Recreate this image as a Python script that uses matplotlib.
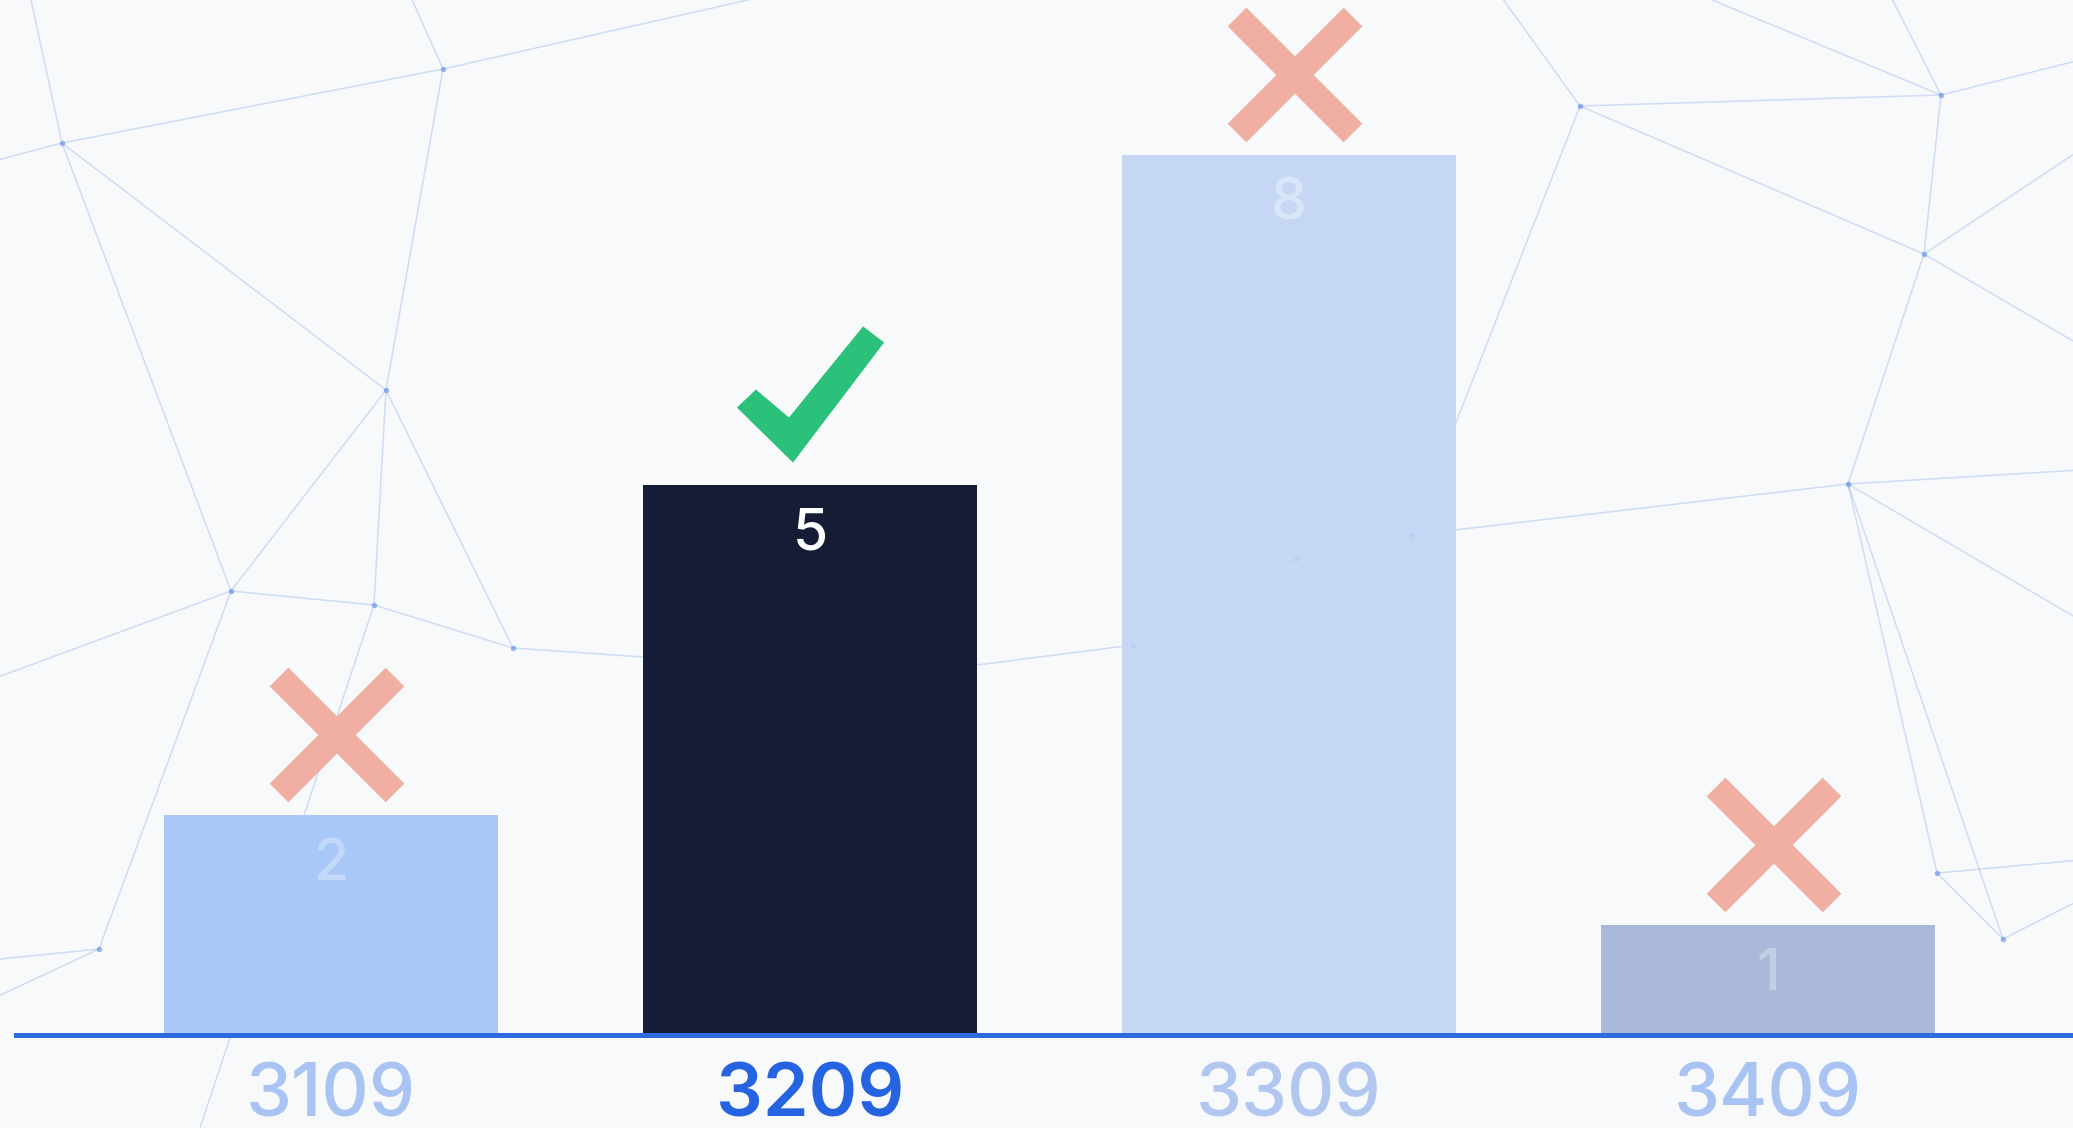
import matplotlib.pyplot as plt
from matplotlib.markers import MarkerStyle
from matplotlib.path import Path

# chart data
versions = ['3109', '3209', '3309', '3409']
counts = [2, 5, 8, 1]
correct = [False, True, False, False]
bar_colors = ['#a9c8f7', '#161c36', '#c0d4f3', '#aab9da']
bar_alpha = [1, 1, 0.9, 1]
value_colors = ['#c4d9fa', '#ffffff', '#d9e6f9', '#c2cee6']
tick_colors = ['#a9c3f2', '#2563e0', '#b2c7ef', '#a9c3f2']

# decorative background network (figure pixels, y from top)
nodes = {
    'A': (62, 143), 'B': (443, 69), 'C': (386, 390), 'D': (231, 591),
    'E': (374, 605), 'F': (513, 648), 'G': (99, 949), 'H': (1580, 106),
    'I': (1941, 95), 'J': (1924, 254), 'K': (1848, 484), 'L': (1412, 535),
    'M': (1296, 559), 'N': (1133, 645), 'O': (2003, 939), 'P': (1937, 873),
    'a': (-10, 162), 'b': (770, -5), 'c': (-10, 680), 'd': (643, 657),
    'e': (977, 665), 'f': (2080, 470), 'g': (2080, 345), 'h': (2080, 60),
    'i': (2080, 620), 'j': (2080, 860), 'k': (2080, 900), 'l': (-10, 960),
    'm': (30, -5), 'n': (410, -5), 'o': (-10, 1000), 'p': (200, 1128),
    'q': (1500, -5), 'r': (1890, -5), 's': (2080, 150), 't': (1700, -5),
}
edges = ['aA', 'AB', 'Bb', 'AC', 'AD', 'Am', 'Bn', 'BC', 'CD', 'CE', 'CF',
         'DE', 'EF', 'Dc', 'Fd', 'eN', 'NM', 'ML', 'LH', 'LK', 'Kf', 'HI',
         'HJ', 'IJ', 'JK', 'Jg', 'Ih', 'KO', 'Ki', 'PO', 'Pj', 'Ok', 'Gl',
         'DG', 'Go', 'Ep', 'Hq', 'Ir', 'Js', 'It', 'KP']

fig = plt.figure(figsize=(20.73, 11.28), dpi=100, facecolor='#f8f9fb')

bg = fig.add_axes([0, 0, 1, 1], zorder=0)
bg.set_xlim(0, 2073)
bg.set_ylim(1128, 0)
bg.axis('off')
for e in edges:
    (x1, y1), (x2, y2) = nodes[e[0]], nodes[e[1]]
    bg.plot([x1, x2], [y1, y2], color='#6f9be8', lw=1.1, alpha=0.3)
for k, (x, y) in nodes.items():
    if k.isupper():
        bg.plot(x, y, 'o', color='#6f9be8', ms=3, alpha=0.6)

ax = fig.add_axes([16 / 2073, 93 / 1128, 1 - 16 / 2073, 1035 / 1128], zorder=1)
ax.patch.set_alpha(0)
x = list(range(len(versions)))
bars = ax.bar(x, counts, width=0.697, color=bar_colors, zorder=2)
for b, a in zip(bars, bar_alpha):
    b.set_alpha(a)
ax.set_xlim(-0.658, 3.637)
ax.set_ylim(0, 9.41)

for i, v in enumerate(counts):
    ax.text(i, v - 0.45, str(v), ha='center', va='center', fontsize=41,
            family='Inter', fontweight='medium', color=value_colors[i], zorder=3)

# check mark drawn as a filled outline
check_path = Path([(-0.741, 0.068), (-1, -0.177), (-0.238, -0.925),
                   (1, 0.707), (0.714, 0.925), (-0.293, -0.313),
                   (-0.741, 0.068)], closed=True)
check = MarkerStyle(check_path)
cross = MarkerStyle('x', capstyle='butt')
for i, v in enumerate(counts):
    if correct[i]:
        ax.plot(i, v + 0.827, marker=check, ms=106, mew=0, mfc='#2bc17a',
                clip_on=False, zorder=3)
    else:
        ax.plot(i + 0.012, v + 0.727, marker=cross, ms=84, mew=19,
                mec='#f0afa2', clip_on=False, zorder=3)

for s in ['top', 'left', 'right']:
    ax.spines[s].set_visible(False)
ax.spines['bottom'].set_color('#2f6be0')
ax.spines['bottom'].set_linewidth(3.6)
ax.spines['bottom'].set_zorder(4)
ax.set_yticks([])
ax.set_xticks(x)
ax.set_xticklabels(versions, fontsize=53, family='Inter')
ax.tick_params(axis='x', length=0, pad=20)
for lbl, c in zip(ax.get_xticklabels(), tick_colors):
    lbl.set_color(c)
    lbl.set_fontweight('semibold' if c == '#2563e0' else 'medium')

fig.savefig('out.png', dpi=100, facecolor=fig.get_facecolor())
